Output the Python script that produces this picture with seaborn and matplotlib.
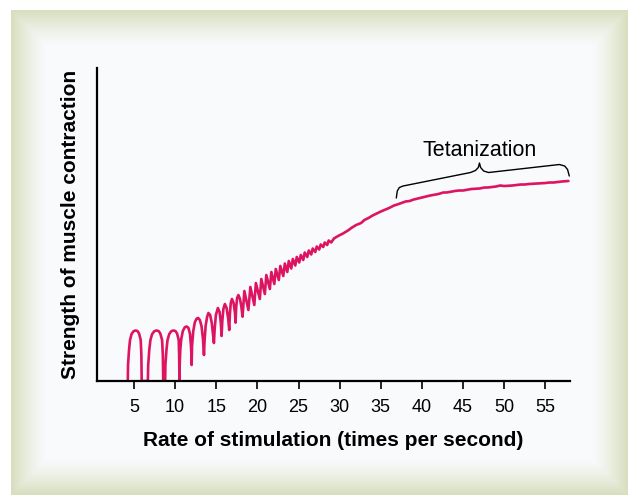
from matplotlib import pyplot as plt
import numpy as np
import pandas as pd
import seaborn as sns

# Rate of stimulation (x) and strength of contraction (arbitrary units, y)
# single twitches at low rates, then partly fused twitches
twitch_x = [4.24, 4.27, 4.39, 4.51, 4.70, 4.94, 5.18, 5.42, 5.61, 5.81, 5.89, 5.93,
            6.68, 6.72, 6.85, 6.99, 7.20, 7.46, 7.72, 7.98, 8.19, 8.41, 8.50, 8.55,
            8.78, 8.81, 8.94, 9.07, 9.28, 9.53, 9.78, 10.03, 10.23, 10.43, 10.48, 10.52,
            10.55, 10.62, 10.74, 10.93, 11.17, 11.40, 11.62, 11.80, 11.92, 11.98, 12.00,
            12.05, 12.20, 12.40, 12.62, 12.80, 13.00, 13.20, 13.38, 13.50,
            13.57, 13.70, 13.88, 14.04, 14.25, 14.45, 14.62, 14.71,
            14.80, 14.95, 15.19, 15.40, 15.55, 15.64,
            15.73, 15.86, 16.04, 16.25, 16.45, 16.57,
            16.65, 16.76, 16.90, 17.10, 17.27, 17.34,
            17.42, 17.53, 17.68, 17.88, 18.05, 18.19]
twitch_y = [0, 16, 31, 41, 47, 49.8, 50.5, 50, 47.5, 41, 26, 0,
            0, 16, 31, 41, 47, 49.8, 50.5, 50, 47.5, 41, 26, 0,
            0, 16, 31, 41, 47, 49.8, 50.5, 50, 47.5, 41, 26, 0,
            16, 31, 42, 50, 53.8, 54.5, 53, 47, 35, 25, 16,
            35, 50, 59, 62.5, 63, 61, 55, 42, 26,
            40, 55, 64, 68, 66, 58, 45, 38,
            52, 66, 73, 69, 58, 45,
            60, 72, 77, 73, 62, 51,
            67, 78, 82, 78, 68, 58.3,
            74, 83, 86, 82, 74, 64.3]

# summation: peaks and troughs of the fusing twitches
summation_x = [18.41, 18.90, 19.14, 19.62, 19.81, 20.29, 20.47, 20.90,
               21.08, 21.51, 21.69, 22.05, 22.23, 22.60, 22.78, 23.14,
               23.33, 23.63, 23.81, 24.11, 24.30, 24.60, 24.78, 25.08,
               25.27, 25.57, 25.75, 26.06, 26.24, 26.54, 26.72, 27.03,
               27.21, 27.51, 27.69, 28.00, 28.18, 28.48, 28.66, 28.97]
summation_y = [90, 71, 94, 76, 98, 82, 102, 87,
               106, 92, 109, 97, 112, 101, 115, 105,
               117.5, 109, 120, 112.5, 122, 115.5, 124, 118.5,
               126, 121, 128.5, 124, 130.5, 126.5, 132.5, 129,
               134.5, 131.5, 136.5, 134, 138.5, 136, 140.5, 138.5]

# tetanus: smooth plateau with slight hand-drawn wobble
tetanus_x = [29.3, 29.8, 30.4, 31, 31.5, 32, 32.6, 33, 33.5, 34, 35, 36, 36.6, 37,
             38, 38.5, 39, 40, 41, 42, 42.6, 43, 44, 44.5, 45, 46, 47, 47.6, 48,
             49, 49.5, 50, 51, 52, 52.5, 53, 54, 55, 55.5, 56, 57, 57.8]
tetanus_y = [142.5, 145, 147.5, 150.5, 153.5, 156, 158, 161, 163, 165.5, 169.5,
             173, 175.5, 176.5, 179.5, 180, 181.5, 183.5, 185.5, 187, 188.5,
             188.5, 190, 190.5, 190.5, 192, 192.5, 193.5, 193.5, 194.5, 195.5,
             195, 195.5, 196.5, 196.5, 197, 197.5, 198, 198.5, 198.5, 199.5, 200]

x_ticks = [5, 10, 15, 20, 25, 30, 35, 40, 45, 50, 55]

curve = pd.DataFrame({
    "rate": twitch_x + summation_x + tetanus_x,
    "strength": twitch_y + summation_y + tetanus_y,
})

sns.set_style("white")
plt.rcParams["font.family"] = ["Liberation Sans", "DejaVu Sans"]
plt.rcParams["text.color"] = "black"
plt.rcParams["axes.labelcolor"] = "black"
plt.rcParams["xtick.color"] = "black"

fig = plt.figure(figsize=(6.28, 4.95), dpi=100)

# Green bevelled frame behind the chart
h, w = 495, 628
rows, cols = np.mgrid[0:h, 0:w]
dist = np.minimum.reduce([rows - 10, cols - 11, (h - 1) - rows, (w - 1) - cols]).astype(float)
t = np.clip(dist / 36.0, 0, 1)
green = np.array([215, 223, 190]) / 255
panel = np.array([249, 250, 252]) / 255
img = panel + (green - panel) * ((1 - t) ** 1.3)[..., None]
img[(rows < 10) | (cols < 11)] = 1.0
bg = fig.add_axes([0, 0, 1, 1], zorder=-1)
bg.imshow(img, aspect="auto", interpolation="bilinear")
bg.axis("off")

ax = fig.add_axes([0.1545, 0.2303, 0.7532, 0.6323])
ax.set_facecolor("none")
sns.lineplot(data=curve, x="rate", y="strength", sort=False, estimator=None,
             color="#dc1461", linewidth=1.9, ax=ax)

# Brace over the tetanized part
brace_x = [36.88, 37.0, 37.25, 37.7, 45.9, 46.5, 46.85, 46.99, 47.13, 47.5, 48.1, 56.7, 57.35, 57.7, 57.91]
brace_y = [183, 190, 193.5, 195, 208.5, 210.5, 213.5, 218, 213.5, 210, 208.5, 216.5, 215, 211.5, 205]
ax.plot(brace_x, brace_y, color="black", linewidth=1.0)
ax.text(46.99, 225.5, "Tetanization", ha="center", va="baseline", fontsize=15.5)

ax.set_xlim(0.5, 58.0)
ax.set_ylim(0, 313)
ax.set_xticks(x_ticks)
ax.set_yticks([])
ax.tick_params(axis="x", direction="out", length=6, width=1.2, pad=7,
               labelsize=13, bottom=True)
for side in ["top", "right"]:
    ax.spines[side].set_visible(False)
for side in ["left", "bottom"]:
    ax.spines[side].set_color("black")
    ax.spines[side].set_linewidth(1.6)

ax.set_xlabel("Rate of stimulation (times per second)", fontsize=15, fontweight="bold", labelpad=11)
ax.set_ylabel("Strength of muscle contraction", fontsize=15, fontweight="bold", labelpad=12)

plt.savefig("out.png", dpi=100)
